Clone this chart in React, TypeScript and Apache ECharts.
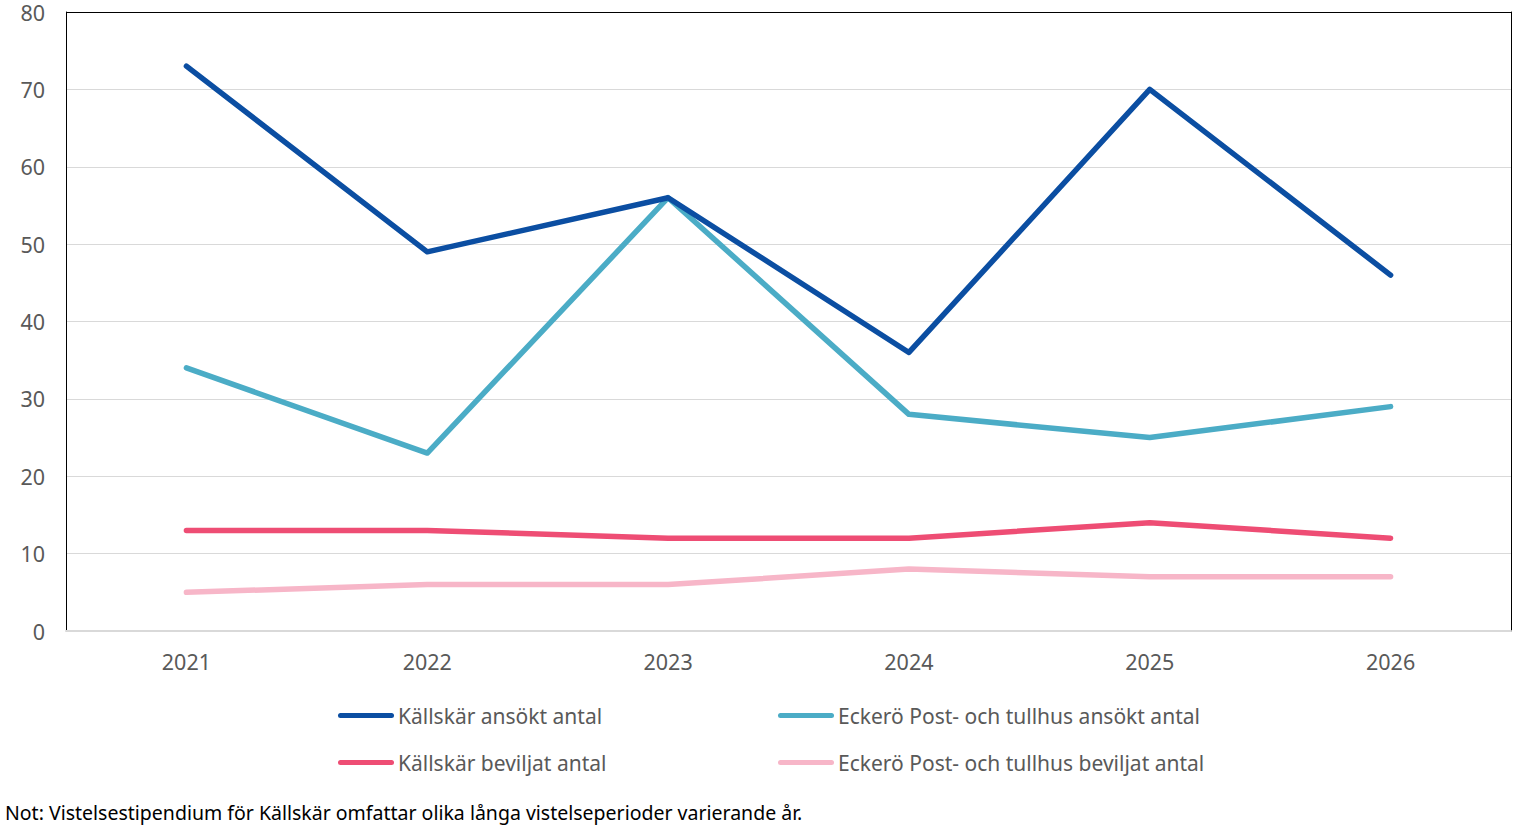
import React, { useEffect, useRef } from "react";
import * as echarts from "echarts";

const years = ["2021", "2022", "2023", "2024", "2025", "2026"];
const kallskarAnsokt = [73, 49, 56, 36, 70, 46];
const eckeroAnsokt = [34, 23, 56, 28, 25, 29];
const kallskarBeviljat = [13, 13, 12, 12, 14, 12];
const eckeroBeviljat = [5, 6, 6, 8, 7, 7];

const seriesNames = [
  "Källskär ansökt antal",
  "Eckerö Post- och tullhus ansökt antal",
  "Källskär beviljat antal",
  "Eckerö Post- och tullhus beviljat antal",
];
const seriesData = [kallskarAnsokt, eckeroAnsokt, kallskarBeviljat, eckeroBeviljat];
const seriesColors = ["#0B4EA2", "#4BACC6", "#EE4D74", "#F7B6C8"];

const noteText = "Not: Vistelsestipendium för Källskär omfattar olika långa vistelseperioder varierande år.";

const FONT = "'Noto Sans', sans-serif";
// capsule-shaped legend marker, like a thick line with round caps
const CAPSULE = "path://M2.5,0 H53.5 A2.5,2.5 0 0 1 53.5,5 H2.5 A2.5,2.5 0 0 1 2.5,0 Z";
// gridline colours from 0 up to 80; the top one doubles as the frame's upper edge
const SPLIT_COLORS = ["#D9D9D9", "#D9D9D9", "#D9D9D9", "#D9D9D9", "#D9D9D9", "#D9D9D9", "#D9D9D9", "#D9D9D9", "#000000"];

export default function App() {
  const ref = useRef<HTMLDivElement>(null);

  useEffect(() => {
    if (!ref.current) return;
    const chart = echarts.init(ref.current, undefined, { renderer: "svg" });

    const legendPos = [
      { left: 338, top: 705 },
      { left: 778, top: 705 },
      { left: 338, top: 752 },
      { left: 778, top: 752 },
    ];

    chart.setOption({
      animation: false,
      backgroundColor: "#ffffff",
      textStyle: { fontFamily: FONT },
      grid: {
        left: 66,
        right: 15,
        top: 12,
        bottom: 196,
        show: false,
      },
      xAxis: [
        {
          type: "category",
          data: years,
          boundaryGap: true,
          axisLine: { show: true, lineStyle: { color: "#D9D9D9", width: 2 } },
          axisTick: { show: false },
          axisLabel: { color: "#595959", fontSize: 21.5, fontFamily: FONT, margin: 19 },
          splitLine: { show: false },
          z: 5,
        },
      ],
      yAxis: [
        {
          type: "value",
          min: 0,
          max: 80,
          interval: 10,
          axisLine: { show: true, lineStyle: { color: "#000000", width: 1 } },
          axisTick: { show: false },
          axisLabel: { color: "#595959", fontSize: 21.5, lineHeight: 20, fontFamily: FONT, margin: 21 },
          splitLine: { show: true, lineStyle: { color: SPLIT_COLORS, width: 1 } },
        },
        {
          type: "value",
          min: 0,
          max: 80,
          interval: 10,
          position: "right",
          axisLine: { show: true, lineStyle: { color: "#000000", width: 1 } },
          axisTick: { show: false },
          axisLabel: { show: false },
          splitLine: { show: false },
        },
      ],
      legend: seriesNames.map((name, i) => ({
        data: [{ name, icon: CAPSULE }],
        left: legendPos[i].left,
        top: legendPos[i].top,
        itemWidth: 56,
        itemHeight: 5,
        itemGap: 0,
        padding: 0,
        selectedMode: false,
        textStyle: { color: "#595959", fontSize: 21, fontFamily: FONT, padding: [0, 0, 0, -1] },
      })),
      series: seriesNames.map((name, i) => ({
        name,
        type: "line",
        data: seriesData[i],
        symbol: "none",
        showSymbol: false,
        lineStyle: { color: seriesColors[i], width: 5.5, cap: "round", join: "round" },
        itemStyle: { color: seriesColors[i] },
        z: 10 - i,
      })),
      graphic: [
        {
          type: "text",
          left: 5,
          top: 802,
          style: { text: noteText, fill: "#000000", fontSize: 19.5, fontFamily: FONT },
        },
      ],
    });

    return () => chart.dispose();
  }, []);

  return (
    <div
      ref={ref}
      style={{ position: "fixed", left: 0, top: 0, width: 1526, height: 827 }}
    />
  );
}
